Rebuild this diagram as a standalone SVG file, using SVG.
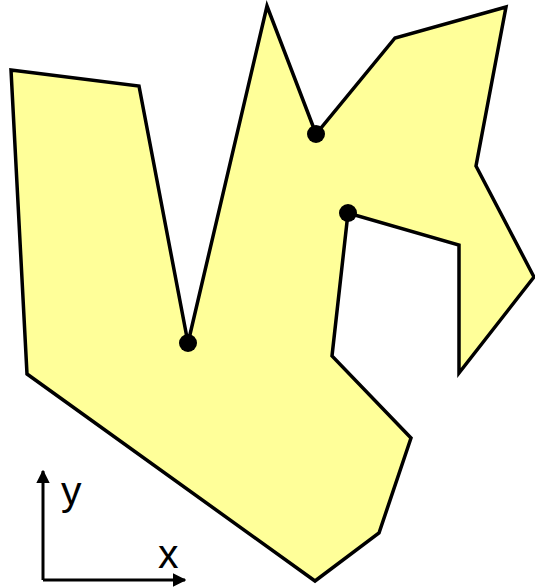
<svg xmlns="http://www.w3.org/2000/svg" width="535" height="588" viewBox="0 0 535 588">
<style>
.poly{fill:#ffff99;stroke:#000;stroke-width:3.5;stroke-linejoin:miter}
.dot{fill:#000}
.axis{stroke:#000;stroke-width:3;fill:none}
.lbl{font-family:"Liberation Sans",Arial,sans-serif;font-size:41px;fill:#000}
</style>
<defs>
<marker id="ah" viewBox="0 0 10 10" refX="9" refY="5" markerWidth="4.5" markerHeight="4.5" markerUnits="strokeWidth" orient="auto"><path d="M0,0 L10,5 L0,10 z" fill="#000"/></marker>
</defs>
<g id="polygon">
<polygon class="poly" points="11,70 139,86 188,343 267,6 316,134 395,38 506,7 476,166 534,277 459,373 459,245 348,213 332,356 411,438 379,533 315,581 27,374"/>
</g>
<g id="vertices">
<circle class="dot" cx="188" cy="343" r="9"/>
<circle class="dot" cx="316" cy="134" r="9"/>
<circle class="dot" cx="348" cy="213" r="9"/>
</g>
<g id="connectors">
<path class="axis" d="M43,580 L43,471" marker-end="url(#ah)"/>
<path class="axis" d="M43,580 L185,580" marker-end="url(#ah)"/>
</g>
<g id="labels">
<text class="lbl" x="61" y="505">y</text>
<text class="lbl" x="158" y="568">x</text>
</g>
</svg>
